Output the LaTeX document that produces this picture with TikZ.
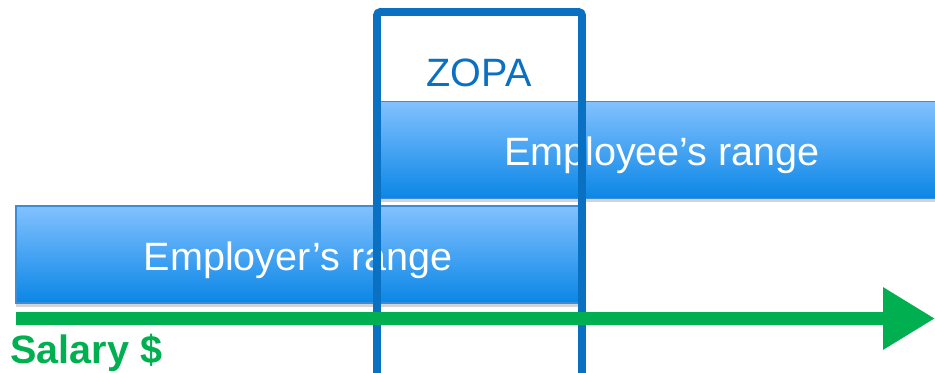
\documentclass[tikz,border=0pt]{standalone}
\usepackage{fontspec}
\setmainfont{Liberation Sans}
\usetikzlibrary{arrows.meta,shadows,positioning}
\definecolor{zopablue}{HTML}{0A70C2}
\definecolor{bartop}{HTML}{82C1FF}
\definecolor{barbot}{HTML}{0A86E6}
\definecolor{barline}{HTML}{3A8DD6}
\definecolor{salgreen}{HTML}{00B050}

\begin{document}
\begin{tikzpicture}[x=0.2mm,y=-0.2mm,
  every node/.style={font=\fontsize{22.5}{26}\selectfont,inner sep=0pt},%
  bar/.style={top color=bartop,bottom color=barbot,draw=barline,line width=0.6pt,%
    text=white,minimum width=11.28cm,minimum height=1.94cm,%
    text height=17.8pt,text depth=0pt,%
    drop shadow={shadow xshift=0pt,shadow yshift=-2pt,opacity=0.35}},%
  zone/.style={draw=zopablue,line width=4.5pt,rounded corners=2pt},%
  axis/.style={draw=salgreen,line width=7.2pt,%
    -{Triangle[length=29.5pt,width=33.5pt]}},%
  ]
  \useasboundingbox (0,0) rectangle (935,373);
  \clip (0,0) rectangle (935,373);

  % the two ranges
  \node (employer) [bar] at (298,254.5) {Employer’s range};
  \node (employee) [bar] at (662,150) {Employee’s range};

  % zone of possible agreement
  \draw [zone] (377,400) |- (582,12) -- (582,400);
  \node (zopa) [text=zopablue] at (479,73) {ZOPA};

  % salary axis
  \coordinate (axl) at (16,318.5);
  \coordinate (axr) at (935,318.5);
  \draw [axis] (axl) -- (axr);
  \node (salary) [text=salgreen,font=\fontsize{22.5}{26}\selectfont\bfseries,%
    text height=16.1pt,text depth=0pt,anchor=west] at (10,349) {Salary \$};
\end{tikzpicture}
\end{document}
